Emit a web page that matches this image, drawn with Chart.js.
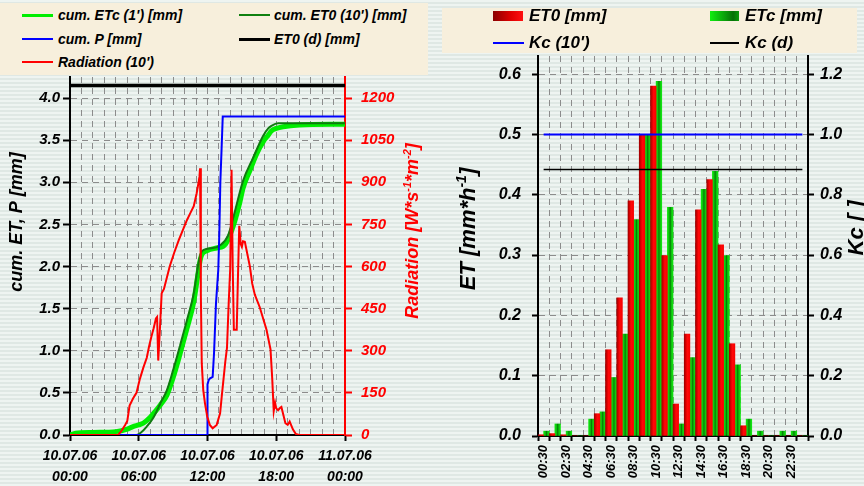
<!DOCTYPE html>
<html>
<head>
<meta charset="utf-8">
<script src="https://cdn.jsdelivr.net/npm/chart.js@4.4.1/dist/chart.umd.min.js"></script>
<style>
  html, body { margin: 0; padding: 0; }
  body {
    width: 864px; height: 486px; position: relative; overflow: hidden;
    background: repeating-linear-gradient(to bottom, #eef4f1 0px, #eef4f1 2px, #dfe8e4 2px, #dfe8e4 4px);
    font-family: "Liberation Sans", Arial, sans-serif;
  }
  canvas { position: absolute; top: 0; }
  .box { position: absolute; background: #f7efdc; z-index: 2; }
  .item { position: absolute; font-weight: bold; font-style: italic; white-space: nowrap; color: #000; }
  .item .key { position: absolute; left: 0; top: 50%; }
</style>
</head>
<body>
<canvas id="leftChart" width="432" height="486" style="left:0"></canvas>
<canvas id="rightChart" width="432" height="486" style="left:432px"></canvas>

<!-- left legend -->
<div class="box" style="left:0;top:3px;width:428px;height:72px">
  <div class="item" style="left:22px;top:1px;height:22px;line-height:22px;font-size:14px;padding-left:36px">
    <span class="key" style="width:31px;height:3px;margin-top:-1.5px;background:#00ee00"></span>cum. ETc (1') [mm]</div>
  <div class="item" style="left:239px;top:1px;height:22px;line-height:22px;font-size:14px;padding-left:35px">
    <span class="key" style="width:31px;height:2px;margin-top:-1px;background:#108010"></span>cum. ET0 (10') [mm]</div>
  <div class="item" style="left:22px;top:25px;height:22px;line-height:22px;font-size:14px;padding-left:36px">
    <span class="key" style="width:31px;height:2px;margin-top:-1px;background:#0000ff"></span>cum. P [mm]</div>
  <div class="item" style="left:239px;top:25px;height:22px;line-height:22px;font-size:14px;padding-left:35px">
    <span class="key" style="width:31px;height:3px;margin-top:-1.5px;background:#000"></span>ET0 (d) [mm]</div>
  <div class="item" style="left:22px;top:48px;height:22px;line-height:22px;font-size:14px;padding-left:36px">
    <span class="key" style="width:31px;height:2px;margin-top:-1px;background:#ff0000"></span>Radiation (10')</div>
</div>

<!-- right legend -->
<div class="box" style="left:442px;top:8px;width:415px;height:45px">
  <div class="item" style="left:51px;top:-4px;height:24px;line-height:24px;font-size:17px;padding-left:36px">
    <span class="key" style="width:30px;height:10px;margin-top:-5px;background:linear-gradient(to right,#8a0000,#e00000 60%,#ff1010)"></span>ET0 [mm]</div>
  <div class="item" style="left:268px;top:-4px;height:24px;line-height:24px;font-size:17px;padding-left:35px">
    <span class="key" style="width:29px;height:10px;margin-top:-5px;background:linear-gradient(to right,#10ee10,#0a9a0a 55%,#067006 80%,#0a9a0a)"></span>ETc [mm]</div>
  <div class="item" style="left:51px;top:23px;height:24px;line-height:24px;font-size:17px;padding-left:36px">
    <span class="key" style="width:31px;height:2px;margin-top:-1px;background:#0000ff"></span>Kc (10')</div>
  <div class="item" style="left:268px;top:23px;height:24px;line-height:24px;font-size:17px;padding-left:35px">
    <span class="key" style="width:29px;height:2px;margin-top:-1px;background:#000"></span>Kc (d)</div>
</div>

<script>
// ---- left chart data (hours since 10.07.06 00:00) ----
const radHours = [0, 4.2, 4.5, 4.8, 5.0, 5.2, 5.5, 5.8, 6.1, 6.4, 6.7, 6.9, 7.1, 7.3, 7.5, 7.6, 7.7, 7.85, 8.0, 8.2,
  8.7, 9.1, 9.5, 9.9, 10.2, 10.5, 10.8, 11.05, 11.2, 11.3, 11.35, 11.42, 11.5, 11.63, 11.78, 11.98, 12.2, 12.45, 12.8,
  13.1, 13.25, 13.4, 13.55, 13.7, 13.85, 13.98, 14.1, 14.2, 14.3, 14.55, 14.65, 14.77, 14.9, 15.0, 15.1, 15.26, 15.45,
  15.7, 15.9, 16.13, 16.56, 17.15, 17.5, 17.65, 17.78, 17.9, 18.0, 18.16, 18.3, 18.45, 18.6, 18.8, 19.0, 19.17, 19.3,
  19.45, 19.7, 20.0, 24];
const radValues = [0, 0, 15, 35, 50, 105, 130, 150, 200, 240, 275, 315, 350, 380, 415, 420, 265, 380, 505, 520,
  600, 650, 695, 735, 765, 790, 815, 860, 895, 920, 950, 500, 255, 160, 113, 65, 36, 24, 36,
  77, 140, 200, 260, 310, 470, 590, 945, 600, 375, 375, 550, 745, 680, 670, 690, 688, 650,
  600, 540, 500, 455, 375, 305, 200, 85, 115, 95, 88, 95, 100, 75, 42, 36, 48, 35,
  20, 4, 0, 0];

const etcHours = [0, 0.5, 2, 4, 5, 5.5, 6, 6.4, 7.0, 7.5, 7.9, 8.45, 9.0, 9.6, 10.2, 10.8, 11.2, 11.35, 11.5, 12.0,
  12.8, 13.37, 13.6, 13.8, 14.25, 14.8, 15.1, 15.7, 16.3, 16.85, 17.3, 17.58, 18.0, 18.6, 20, 24];
const etcValues = [0, 0.02, 0.03, 0.04, 0.07, 0.1, 0.12, 0.14, 0.21, 0.29, 0.36, 0.47, 0.68, 0.96, 1.26, 1.58, 1.94, 2.07, 2.14, 2.19,
  2.22, 2.24, 2.27, 2.32, 2.48, 2.75, 2.93, 3.14, 3.34, 3.48, 3.56, 3.61, 3.64, 3.66, 3.68, 3.69];

const et0Hours = [0, 5.8, 6.2, 6.7, 7.3, 7.9, 8.45, 9.0, 9.6, 10.2, 10.8, 11.2, 11.5, 12.0, 13.08, 13.8, 14.25, 15.11,
  15.98, 16.85, 17.3, 17.58, 18.16, 24];
const et0Values = [0, 0, 0.03, 0.1, 0.21, 0.38, 0.53, 0.77, 1.06, 1.36, 1.68, 2.03, 2.18, 2.21, 2.25, 2.37, 2.58, 3.02,
  3.29, 3.55, 3.64, 3.67, 3.70, 3.70];

const precHours = [0, 11.97, 12.0, 12.1, 12.2, 12.45, 12.57, 12.74, 12.94, 13.03, 13.12, 13.23, 13.33, 24];
const precValues = [0, 0, 0.6, 0.65, 0.67, 0.69, 0.97, 1.56, 1.96, 2.39, 3.0, 3.4, 3.78, 3.78];

const et0DayHours = [0, 24];
const et0DayValues = [4.15, 4.15];

const xTickHours = [0, 6, 12, 18, 24];
const xTickDates = ['10.07.06', '10.07.06', '10.07.06', '10.07.06', '11.07.06'];
const xTickTimes = ['00:00', '06:00', '12:00', '18:00', '00:00'];

// ---- right chart data (hourly) ----
const hourLabels = ['00:30', '01:30', '02:30', '03:30', '04:30', '05:30', '06:30', '07:30', '08:30', '09:30', '10:30', '11:30',
  '12:30', '13:30', '14:30', '15:30', '16:30', '17:30', '18:30', '19:30', '20:30', '21:30', '22:30', '23:30'];
const et0Hourly = [0.002, 0.004, 0.002, 0, 0, 0.037, 0.143, 0.229, 0.39, 0.50, 0.58, 0.299,
  0.053, 0.169, 0.375, 0.425, 0.317, 0.153, 0.017, 0, 0, 0, 0, 0];
const etcHourly = [0.008, 0.02, 0.008, 0, 0.028, 0.04, 0.097, 0.169, 0.359, 0.50, 0.588, 0.379,
  0.02, 0.13, 0.409, 0.439, 0.299, 0.118, 0.028, 0.008, 0, 0.008, 0.008, 0];
const kc10Values = [1.0, 1.0, 1.0, 1.0, 1.0, 1.0, 1.0, 1.0, 1.0, 1.0, 1.0, 1.0,
  1.0, 1.0, 1.0, 1.0, 1.0, 1.0, 1.0, 1.0, 1.0, 1.0, 1.0, 1.0];
const kcDayValues = [0.884, 0.884, 0.884, 0.884, 0.884, 0.884, 0.884, 0.884, 0.884, 0.884, 0.884, 0.884,
  0.884, 0.884, 0.884, 0.884, 0.884, 0.884, 0.884, 0.884, 0.884, 0.884, 0.884, 0.884];

const FONT = '"Liberation Sans", Arial, sans-serif';
Chart.defaults.font.family = FONT;
Chart.defaults.font.style = 'italic';
Chart.defaults.font.weight = 'bold';
Chart.defaults.color = '#000';

const GRID = '#8c8c8c';
const DASH = [6, 5];

function toXY(xs, ys) {
    return xs.map((x, i) => ({ x: x, y: ys[i] }));
}

// rotated axis titles with superscripts
function drawVertical(ctx, t) {
    const big = `italic bold ${t.size}px ${FONT}`;
    const small = `italic bold ${Math.round(t.size * 0.62)}px ${FONT}`;
    ctx.save();
    ctx.fillStyle = t.color;
    let total = 0;
    t.parts.forEach(p => {
        ctx.font = p.sup ? small : big;
        total += ctx.measureText(p.text).width;
    });
    ctx.translate(t.x, t.y);
    ctx.rotate(-Math.PI / 2);
    ctx.textBaseline = 'alphabetic';
    const base = t.size * 0.36;
    let x = -total / 2;
    t.parts.forEach(p => {
        ctx.font = p.sup ? small : big;
        ctx.fillText(p.text, x, p.sup ? base - t.size * 0.42 : base);
        x += ctx.measureText(p.text).width;
    });
    ctx.restore();
}

const sideTitles = {
    id: 'sideTitles',
    afterDraw(chart, args, opts) {
        (opts.items || []).forEach(t => drawVertical(chart.ctx, t));
    }
};

// ---- left chart ----
new Chart(document.getElementById('leftChart'), {
    type: 'line',
    data: {
        datasets: [
            { label: "Radiation (10')", data: toXY(radHours, radValues), yAxisID: 'yR', borderColor: '#ff0000', borderWidth: 2 },
            { label: 'cum. P [mm]', data: toXY(precHours, precValues), yAxisID: 'y', borderColor: '#0000ff', borderWidth: 2 },
            { label: "cum. ET0 (10') [mm]", data: toXY(et0Hours, et0Values), yAxisID: 'y', borderColor: '#107a10', borderWidth: 2, cubicInterpolationMode: 'monotone' },
            { label: "cum. ETc (1') [mm]", data: toXY(etcHours, etcValues), yAxisID: 'y', borderColor: '#00ee00', borderWidth: 5, cubicInterpolationMode: 'monotone' },
            { label: 'ET0 (d) [mm]', data: toXY(et0DayHours, et0DayValues), yAxisID: 'y', borderColor: '#000000', borderWidth: 3.5 }
        ]
    },
    options: {
        responsive: false,
        animation: false,
        layout: { padding: { top: 77, left: 0, right: 0, bottom: 0 } },
        elements: { point: { radius: 0 }, line: { tension: 0, borderCapStyle: 'butt' } },
        plugins: {
            legend: { display: false },
            tooltip: { enabled: false },
            sideTitles: {
                items: [
                    { x: 16, y: 222, size: 18, color: '#000', parts: [{ text: 'cum. ET, P [mm]' }] },
                    { x: 412, y: 231, size: 18, color: '#ff0000', parts: [
                        { text: 'Radiation [W*s' }, { text: '-1', sup: true }, { text: '*m' }, { text: '-2', sup: true }, { text: ']' }] }
                ]
            }
        },
        scales: {
            x: {
                type: 'linear', min: 0, max: 24,
                afterFit: s => { s.height = 51; },
                ticks: {
                    stepSize: 1, autoSkip: false, maxRotation: 0, padding: 5,
                    font: { size: 14, lineHeight: 1.5 },
                    callback: v => {
                        const i = xTickHours.indexOf(v);
                        return i >= 0 ? [xTickDates[i], xTickTimes[i]] : '';
                    }
                },
                grid: {
                    color: GRID, lineWidth: 1, tickLength: 6, tickWidth: 2,
                    tickColor: c => (c.tick && c.tick.value % 6 === 0) ? '#000' : 'rgba(0,0,0,0)'
                },
                border: { color: '#000', width: 2, dash: DASH }
            },
            y: {
                position: 'left', min: 0, max: 4.25,
                afterFit: s => { s.width = 70; },
                ticks: { stepSize: 0.5, includeBounds: false, padding: 3, font: { size: 15 }, callback: v => v.toFixed(1) },
                grid: { color: GRID, lineWidth: 1, tickLength: 7, tickWidth: 2, tickColor: '#000' },
                border: { color: '#000', width: 2, dash: DASH }
            },
            yR: {
                position: 'right', min: 0, max: 1275,
                afterFit: s => { s.width = 87; },
                ticks: { stepSize: 150, includeBounds: false, padding: 9, color: '#ff0000', font: { size: 15 }, callback: v => String(v) },
                grid: { drawOnChartArea: false, tickLength: 7, tickWidth: 2, tickColor: '#ff0000' },
                border: { color: '#ff0000', width: 2 }
            }
        }
    },
    plugins: [sideTitles]
});

// ---- right chart ----
const redStops = [[0, '#a00000'], [0.3, '#dd0000'], [0.55, '#ff0808'], [1, '#f80000']];
const greenStops = [[0, '#12e812'], [0.3, '#0cc00c'], [0.5, '#067a06'], [0.7, '#0cc00c'], [1, '#12e812']];

function barFill(stops, side) {
    return function (c) {
        const xs = c.chart.scales.x;
        if (!xs || c.dataIndex === undefined || !isFinite(xs.left)) return stops[2][1];
        const mid = xs.getPixelForValue(c.dataIndex);
        const half = (xs.right - xs.left) / hourLabels.length / 2;
        const x0 = side < 0 ? mid - half : mid;
        const g = c.chart.ctx.createLinearGradient(x0, 0, x0 + half, 0);
        stops.forEach(s => g.addColorStop(s[0], s[1]));
        return g;
    };
}

new Chart(document.getElementById('rightChart'), {
    type: 'bar',
    data: {
        labels: hourLabels,
        datasets: [
            { type: 'line', label: "Kc (10')", data: kc10Values, yAxisID: 'y2', borderColor: '#0000ff', borderWidth: 2, pointRadius: 0, order: 0 },
            { type: 'line', label: 'Kc (d)', data: kcDayValues, yAxisID: 'y2', borderColor: '#000000', borderWidth: 1.5, pointRadius: 0, order: 0 },
            { label: 'ET0 [mm]', data: et0Hourly, yAxisID: 'y', backgroundColor: barFill(redStops, -1), order: 1 },
            { label: 'ETc [mm]', data: etcHourly, yAxisID: 'y', backgroundColor: barFill(greenStops, 1), order: 1 }
        ]
    },
    options: {
        responsive: false,
        animation: false,
        layout: { padding: { top: 56, left: 0, right: 0, bottom: 0 } },
        datasets: { bar: { categoryPercentage: 1, barPercentage: 1 } },
        plugins: {
            legend: { display: false },
            tooltip: { enabled: false },
            sideTitles: {
                items: [
                    { x: 35, y: 229, size: 22, color: '#000', parts: [{ text: 'ET [mm*h' }, { text: '-1', sup: true }, { text: ']' }] },
                    { x: 423, y: 228, size: 22, color: '#000', parts: [{ text: 'Kc [ ]' }] }
                ]
            }
        },
        scales: {
            x: {
                afterFit: s => { s.height = 50; },
                ticks: {
                    autoSkip: false, minRotation: 90, maxRotation: 90, padding: 4,
                    font: { size: 13 },
                    callback: (v, i) => i % 2 === 0 ? hourLabels[i] : ''
                },
                grid: { offset: true, color: GRID, lineWidth: 1, tickLength: 5, tickWidth: 2, tickColor: '#000' },
                border: { color: '#000', width: 2, dash: DASH }
            },
            y: {
                position: 'left', min: 0, max: 0.63,
                afterFit: s => { s.width = 106; },
                ticks: { stepSize: 0.1, includeBounds: false, padding: 11, font: { size: 16 }, callback: v => v.toFixed(1) },
                grid: { color: GRID, lineWidth: 1, tickLength: 6, tickWidth: 2, tickColor: '#000' },
                border: { color: '#000', width: 2, dash: DASH }
            },
            y2: {
                position: 'right', min: 0, max: 1.26,
                afterFit: s => { s.width = 56; },
                ticks: { stepSize: 0.2, includeBounds: false, padding: 6, font: { size: 16 }, callback: v => v.toFixed(1) },
                grid: { drawOnChartArea: false, tickLength: 6, tickWidth: 2, tickColor: '#000' },
                border: { color: '#000', width: 2 }
            }
        }
    },
    plugins: [sideTitles]
});
</script>
</body>
</html>
